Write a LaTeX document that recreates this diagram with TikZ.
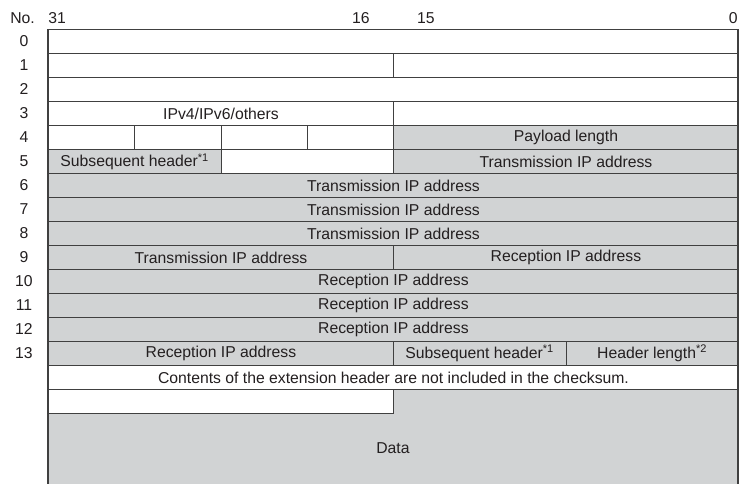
\documentclass[tikz,border=0pt]{standalone}
\usepackage{fontspec}
\setmainfont{Liberation Sans}
\usetikzlibrary{positioning}
\definecolor{fgray}{HTML}{D1D3D4}
\definecolor{fline}{HTML}{404040}
\definecolor{ftext}{HTML}{231F20}
\newcommand{\lblfont}{\fontsize{11.2}{13}\selectfont}
\tikzset{
  cellw/.style={draw=fline, line width=0.7pt, fill=white, text=ftext,
                minimum height=0.599cm, inner sep=0pt, anchor=north west, font=\lblfont},
  cellg/.style={cellw, fill=fgray},
  wfull/.style={minimum width=17.25cm},
  whalf/.style={minimum width=8.625cm},
  wquart/.style={minimum width=4.3125cm},
  wbyte/.style={minimum width=2.15625cm},
  numlbl/.style={font=\lblfont, text=ftext, inner sep=0pt},
}

\begin{document}
\begin{tikzpicture}
  \useasboundingbox (0,0) rectangle (18.5,-12.1);

  %% ── Bit numbers (top) ──
  \node[numlbl, anchor=west] (nolbl) at (0.25,-0.46) {No.};
  \node[numlbl, anchor=west] (b31) at (1.2,-0.46) {31};
  \node[numlbl, anchor=east] (b16) at (9.25,-0.46) {16};
  \node[numlbl, anchor=west] (b15) at (10.42,-0.46) {15};
  \node[numlbl, anchor=east] (b0) at (18.45,-0.46) {0};

  %% ── Row numbers ──
  \foreach \i in {0,...,13}
    \node[numlbl] (no\i) at (0.6, {-0.7375-0.599*(\i+0.5)}) {\i};

  %% ── Fields ──
  \begin{scope}[shift={(1.2,-0.7375)}, y=-0.599cm]
    % Data area (shaded, open at the bottom)
    \fill[fgray] (8.625,15) -| (17.25,18.97) -| (0,16) -| cycle;
    \node[numlbl] (data) at (8.625,17.47) {Data};

    \node[cellw, wfull] (f0) at (0,0) {};
    \node[cellw, whalf] (f1a) at (0,1) {};
    \node[cellw, whalf] (f1b) at (8.625,1) {};
    \node[cellw, wfull] (f2) at (0,2) {};
    \node[cellw, whalf] (f3a) at (0,3) {IPv4/IPv6/others};
    \node[cellw, whalf] (f3b) at (8.625,3) {};
    \foreach \k in {0,...,3}
      \node[cellw, wbyte] (f4\k) at ({2.15625*\k},4) {};
    \node[cellg, whalf] (f4b) at (8.625,4) {Payload length};
    \node[cellg, wquart] (f5a) at (0,5) {Subsequent header\textsuperscript{*1}};
    \node[cellw, wquart] (f5b) at (4.3125,5) {};
    \node[cellg, whalf] (f5c) at (8.625,5) {Transmission IP address};
    \foreach \r in {6,7,8}
      \node[cellg, wfull] (f\r) at (0,\r) {Transmission IP address};
    \node[cellg, whalf] (f9a) at (0,9) {Transmission IP address};
    \node[cellg, whalf] (f9b) at (8.625,9) {Reception IP address};
    \foreach \r in {10,11,12}
      \node[cellg, wfull] (f\r) at (0,\r) {Reception IP address};
    \node[cellg, whalf] (f13a) at (0,13) {Reception IP address};
    \node[cellg, wquart] (f13b) at (8.625,13) {Subsequent header\textsuperscript{*1}};
    \node[cellg, wquart] (f13c) at (12.9375,13) {Header length\textsuperscript{*2}};
    \node[cellw, wfull] (f14) at (0,14)
      {Contents of the extension header are not included in the checksum.};
    \node[cellw, whalf] (f15) at (0,15) {};

    % Outer frame
    \draw[fline, line width=1.3pt] (0,18.97) |- (17.25,0) -- (17.25,18.97);
  \end{scope}
\end{tikzpicture}
\end{document}
